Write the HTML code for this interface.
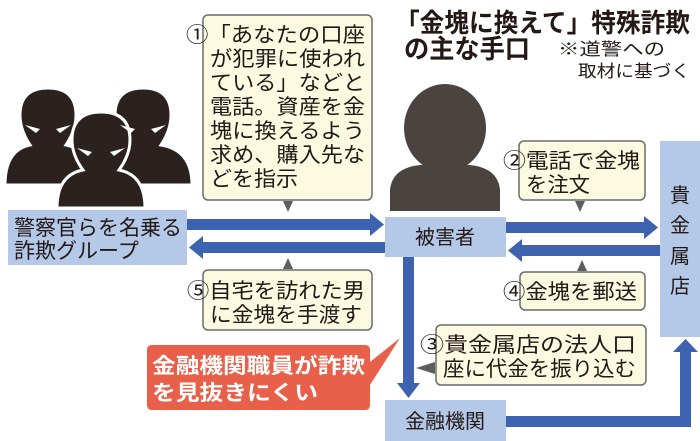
<!DOCTYPE html>
<html><head><meta charset="utf-8"><style>
html,body{margin:0;padding:0;background:#fff;width:700px;height:441px;overflow:hidden}
svg text{font-family:"Liberation Sans","Noto Sans CJK JP",sans-serif;fill:#231815}
</style></head><body>
<svg width="700" height="441" viewBox="0 0 700 441" xmlns="http://www.w3.org/2000/svg">
<g fill="#2b2220" stroke="#fff" stroke-width="3">
<path d="M5,185 Q5,150 30,145 Q20,130 20,115 Q20,88 48,88 Q76,88 76,115 Q76,130 66,145 Q92,150 92,185 Z"/>
<path d="M100,185 Q100,150 125,145 Q115,130 115,115 Q115,88 143,88 Q171,88 171,115 Q171,130 161,145 Q192,150 192,185 Z"/>
<path d="M57,208 Q57,175 83,170 Q72,155 72,140 Q72,112 101,112 Q130,112 130,140 Q130,155 119,170 Q145,175 145,208 Z"/>
</g>
<g fill="#fff">
<path d="M25,125 L40,129 L36,133 Z"/><path d="M71,125 L56,129 L60,133 Z"/>
<path d="M120,125 L135,129 L131,133 Z"/><path d="M166,125 L151,129 L155,133 Z"/>
<path d="M77,148 L92,152 L88,156 Z"/><path d="M125,148 L110,152 L114,156 Z"/>
</g>
<g fill="#4a4441">
<ellipse cx="445" cy="128" rx="41" ry="44"/>
<path d="M390,211 L390,190 Q392,168 420,165 L470,165 Q498,168 500,190 L500,211 Z"/>
</g>
<text x="395" y="32" font-size="26" font-weight="bold" textLength="295" lengthAdjust="spacingAndGlyphs">「金塊に換えて」特殊詐欺</text>
<text x="404" y="58" font-size="26" font-weight="bold" textLength="126" lengthAdjust="spacingAndGlyphs">の主な手口</text>
<text x="558" y="55" font-size="17" textLength="107" lengthAdjust="spacingAndGlyphs">※道警への</text>
<text x="578" y="77" font-size="17" textLength="112" lengthAdjust="spacingAndGlyphs">取材に基づく</text>
<g fill="#b4c9e8">
<rect x="8" y="210" width="179" height="55"/>
<rect x="385" y="217" width="121" height="40"/>
<rect x="660" y="141" width="40" height="196"/>
<rect x="385" y="400" width="121" height="41"/>
</g>
<text x="14" y="235" font-size="21" textLength="168" lengthAdjust="spacingAndGlyphs">警察官らを名乗る</text>
<text x="14" y="258" font-size="21">詐欺グループ</text>
<text x="445" y="244" font-size="20" text-anchor="middle">被害者</text>
<text x="445" y="428" font-size="20" text-anchor="middle">金融機関</text>
<g font-size="20" text-anchor="middle"><text x="680" y="202">貴</text><text x="680" y="232">金</text><text x="680" y="263">属</text><text x="680" y="293">店</text></g>
<g fill="#3d62b0">
<rect x="187" y="219" width="185" height="11"/><path d="M370,213 L384,224.5 L370,236 Z"/>
<rect x="201" y="242" width="184" height="11"/><path d="M203,236 L189,247.5 L203,259 Z"/>
<rect x="506" y="222" width="140" height="11"/><path d="M644,216 L658,227.5 L644,239 Z"/>
<rect x="520" y="245" width="140" height="11"/><path d="M522,239 L508,250.5 L522,262 Z"/>
<rect x="403" y="257" width="11" height="128"/><path d="M397,383 L408.5,398 L420,383 Z"/>
<path d="M506,416 L680,416 L680,350 L691,350 L691,427 L506,427 Z"/><path d="M673,352 L685.5,339 L698,352 Z"/>
</g>
<g fill="#fcfbe2" stroke="#6b6b6b" stroke-width="1.5">
<rect x="203" y="15" width="169" height="185" rx="5"/>
<rect x="519" y="141" width="126" height="59" rx="5"/>
<rect x="520" y="272" width="125" height="38" rx="5"/>
<rect x="436" y="325" width="210" height="60" rx="5"/>
<rect x="203" y="270" width="169" height="60" rx="5"/>
</g>
<g fill="#5e5e5e">
<path d="M283,201 L293,201 L288,212 Z"/>
<path d="M575,201 L585,201 L580,212 Z"/>
<path d="M577,271 L587,271 L582,260 Z"/>
<path d="M283,269 L293,269 L288,258 Z"/>
<path d="M435,362 L435,374 L416,368 Z"/>
</g>
<g font-size="21" lengthAdjust="spacingAndGlyphs">
<text x="186" y="42" textLength="179" lengthAdjust="spacingAndGlyphs">①「あなたの口座</text>
<text x="210" y="66" textLength="155" lengthAdjust="spacingAndGlyphs">が犯罪に使われ</text>
<text x="210" y="90" textLength="155" lengthAdjust="spacingAndGlyphs">ている」などと</text>
<text x="210" y="114" textLength="155" lengthAdjust="spacingAndGlyphs">電話。資産を金</text>
<text x="210" y="138" textLength="155" lengthAdjust="spacingAndGlyphs">塊に換えるよう</text>
<text x="210" y="162" textLength="155" lengthAdjust="spacingAndGlyphs">求め、購入先な</text>
<text x="210" y="186" textLength="88" lengthAdjust="spacingAndGlyphs">どを指示</text>
<text x="503" y="168" textLength="137" lengthAdjust="spacingAndGlyphs">②電話で金塊</text>
<text x="526" y="192" textLength="64" lengthAdjust="spacingAndGlyphs">を注文</text>
<text x="503" y="299" textLength="134" lengthAdjust="spacingAndGlyphs">④金塊を郵送</text>
<text x="420" y="352" textLength="216" lengthAdjust="spacingAndGlyphs">③貴金属店の法人口</text>
<text x="443" y="376" textLength="193" lengthAdjust="spacingAndGlyphs">座に代金を振り込む</text>
<text x="187" y="298" textLength="178" lengthAdjust="spacingAndGlyphs">⑤自宅を訪れた男</text>
<text x="210" y="322" textLength="152" lengthAdjust="spacingAndGlyphs">に金塊を手渡す</text>
</g>
<path d="M150,345 L365,345 Q370,345 370,350 L370,362 L400,338 L370,385 L370,405 Q370,410 365,410 L152,410 Q147,410 147,405 L147,350 Q147,345 152,345 Z" fill="#e8604a"/>
<text x="152" y="373" font-size="21" font-weight="bold" textLength="213" lengthAdjust="spacingAndGlyphs" style="fill:#fff">金融機関職員が詐欺</text>
<text x="152" y="400" font-size="21" font-weight="bold" textLength="166" lengthAdjust="spacingAndGlyphs" style="fill:#fff">を見抜きにくい</text>
</svg>
</body></html>
